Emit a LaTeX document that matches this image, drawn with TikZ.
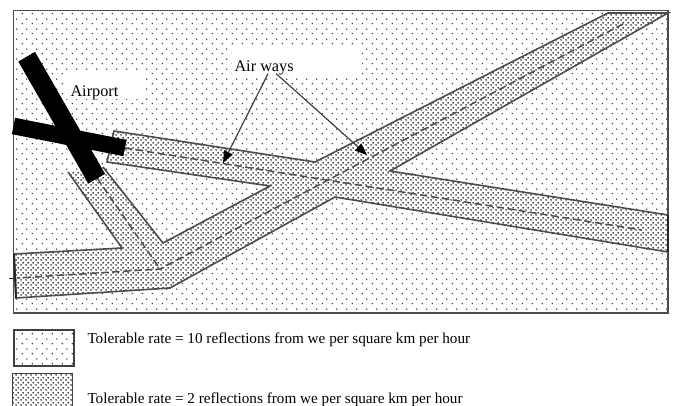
\documentclass[tikz,border=0pt]{standalone}
\usepackage{fontspec}
\setmainfont{Liberation Serif}
\usetikzlibrary{arrows.meta,patterns}
\pgfdeclarepatternformonly{sparse grid}{\pgfpointorigin}{\pgfqpoint{7.5pt}{7.5pt}}{\pgfqpoint{7.5pt}{7.5pt}}{
\pgfpathcircle{\pgfqpoint{1.875pt}{1.875pt}}{0.62pt}
\pgfpathcircle{\pgfqpoint{5.625pt}{5.625pt}}{0.62pt}
\pgfusepath{fill}}
\pgfdeclarepatternformonly{dense grid}{\pgfpointorigin}{\pgfqpoint{3.75pt}{3.75pt}}{\pgfqpoint{3.75pt}{3.75pt}}{
\pgfpathcircle{\pgfqpoint{0.9375pt}{0.9375pt}}{0.74pt}
\pgfpathcircle{\pgfqpoint{2.8125pt}{2.8125pt}}{0.74pt}
\pgfusepath{fill}}
\tikzset{every picture/.style={line width=0.75pt}}
\tikzset{
sparse dots/.style={pattern=sparse grid,pattern color=black!85},
dense dots/.style={preaction={fill=white},pattern=dense grid,pattern color=black},
strip edge/.style={draw=black!70,line width=1.2pt,line join=miter},
center line/.style={draw=black!70,dash pattern=on 5.5pt off 2.8pt,line width=1.1pt},
pointer/.style={draw=black!75,line width=0.9pt,-{Triangle[length=9pt,width=7pt,color=black]}},
runway/.style={draw=black,line cap=butt}
}

\begin{document}
\begin{tikzpicture}[x=0.75pt,y=0.75pt,yscale=-1,xscale=1]
\useasboundingbox (0,0) rectangle (675,406);

%Shape: Rectangle [id:map]
\draw [draw=black!70,line width=1.2pt,sparse dots] (13.5,10.5) rectangle (668,313);
%Shape: Rectangle [id:airportpatch]
\fill [white] (66,72) rectangle (143,99);
%Shape: Rectangle [id:airwayspatch]
\fill [white] (232,48) rectangle (362,74);
%Shape: Polygon [id:airways]
\path [dense dots] (114,131) -- (315,162) -- (608,13) -- (668,13) -- (390,171) -- (668,215) -- (668,252) -- (335,197) -- (170,288) -- (16,298) -- (14,254) -- (122,248) -- (68,172) -- (103,167) -- (163,243) -- (270,186) -- (107,162) -- cycle ;
\draw [strip edge] (103,167) -- (163,243) -- (270,186) -- (107,162) -- (114,131) -- (315,162) -- (608,13) -- (668,13) -- (390,171) -- (668,215) -- (668,252) -- (335,197) -- (170,288) -- (16,298) -- (14,254) -- (122,248) -- (68,172) ;
%Straight Lines [id:edges]
\draw [line width=1.5pt,black!85] (14,254) -- (16,298) ;
\draw [line width=1.5pt,black!85] (668,215) -- (668,252) ;

%Straight Lines [id:dashed centres]
\coordinate (upperstart) at (125,148);
\coordinate (upperend) at (642,230);
\coordinate (lowerend) at (623,24);
\coordinate (fork) at (160,269);
\coordinate (leftend) at (17,278);
\coordinate (branchstart) at (97,178);
\coordinate (tickleft) at (9,278);
\coordinate (tickright) at (14,278);
\draw [center line] (upperstart) -- (upperend) ;
\draw [center line] (lowerend) -- (fork) -- (leftend) ;
\draw [center line] (branchstart) -- (fork) ;
\draw [black!80] (tickleft) -- (tickright) ;

%Straight Lines [id:runways]
\coordinate (runwayAa) at (26.7,56.7);
\coordinate (runwayAb) at (96.7,178.7);
\coordinate (runwayBa) at (13.5,126);
\coordinate (runwayBb) at (125,148);
\draw [runway,line width=14.5pt] (runwayAa) -- (runwayAb) ;
\draw [runway,line width=12.5pt] (runwayBa) -- (runwayBb) ;

%Shape: Rectangle [id:legend]
\draw [draw=black!75,line width=1.2pt,sparse dots] (14,330) rectangle (74,366);
\draw [draw=black!75,line width=1.2pt,dense dots] (12.5,373.5) rectangle (72.5,412);

% Text Node
\draw (69,84) node (airport) [anchor=north west][inner sep=0.75pt]  [font=\fontsize{12.2}{14}\selectfont]  {Airport};
% Text Node
\draw (233,59) node (airways) [anchor=north west][inner sep=0.75pt]  [font=\fontsize{12.2}{14}\selectfont]  {Air ways};
% Text Node
\draw (86,331) node (sparse label) [anchor=north west][inner sep=0.75pt]  [font=\fontsize{11.4}{14}\selectfont]  {Tolerable rate = 10 reflections from we per square km per hour};
% Text Node
\draw (86,391) node (dense label) [anchor=north west][inner sep=0.75pt]  [font=\fontsize{11.4}{14}\selectfont]  {Tolerable rate = 2 reflections from we per square km per hour};

%Straight Lines [id:pointers]
\coordinate (pointerA) at (223,163);
\coordinate (pointerB) at (367,155);
\draw [pointer] ([xshift=3pt,yshift=-2pt]airways.south) -- (pointerA) ;
\draw [pointer] ([xshift=9pt,yshift=-2pt]airways.south) -- (pointerB) ;
\end{tikzpicture}
\end{document}
